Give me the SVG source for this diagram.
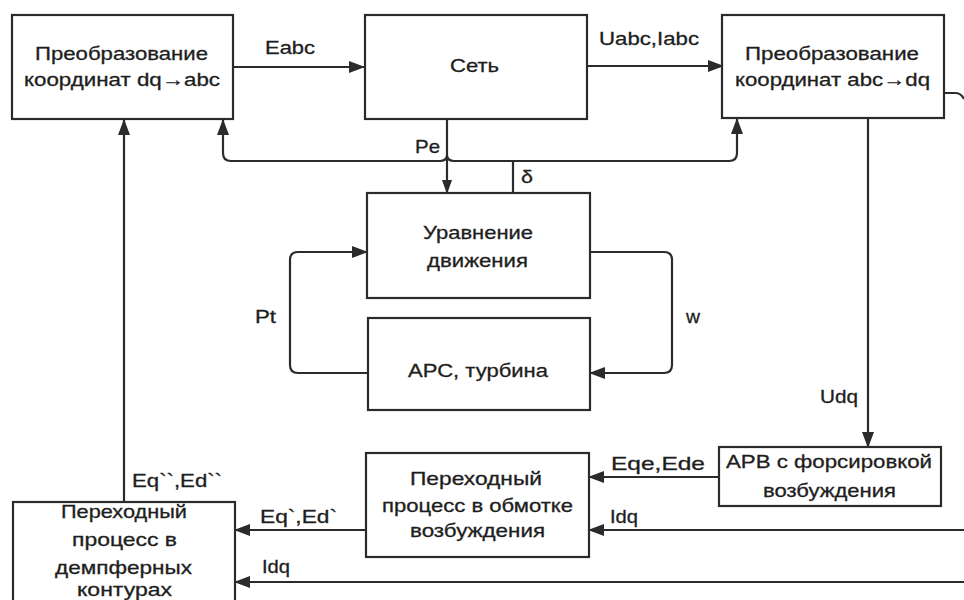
<svg xmlns="http://www.w3.org/2000/svg" width="964" height="600" viewBox="0 0 964 600">
<defs>
<style>
.box{fill:#fff;stroke:#2b2b2b;stroke-width:2.2}
.ln{fill:none;stroke:#2b2b2b;stroke-width:2.2}
.t{font-family:"Liberation Sans",Arial,sans-serif;font-size:18.5px;fill:#1e1e1e;stroke:#1e1e1e;stroke-width:0.3}
</style>
<marker id="ah" markerUnits="userSpaceOnUse" markerWidth="16" markerHeight="12" refX="15" refY="6" orient="auto">
<path d="M0,0 L16,6 L0,12 Z" fill="#2b2b2b"/>
</marker>
<marker id="as" markerUnits="userSpaceOnUse" markerWidth="14" markerHeight="10" refX="13" refY="5" orient="auto">
<path d="M0,0 L14,5 L0,10 Z" fill="#2b2b2b"/>
</marker>
</defs>
<rect width="964" height="600" fill="#fff"/>

<g id="connectors">
<path class="ln" d="M233 67 H364" marker-end="url(#ah)"/>
<path class="ln" d="M587 66 H723" marker-end="url(#ah)"/>
<path class="ln" d="M944 93 H955 Q961 93 964 99"/>
<path class="ln" d="M447 119 V193" marker-end="url(#as)"/>
<path class="ln" d="M513 193 V161 H729 Q737 161 737 153 V119" marker-end="url(#ah)"/>
<path class="ln" d="M513 161 H454 Q448 161 447 156 Q446 161 440 161 H231 Q223 161 223 153 V120" marker-end="url(#ah)"/>
<path class="ln" d="M367 373 H298 Q290 373 290 365 V260 Q290 252 298 252 H367" marker-end="url(#ah)"/>
<path class="ln" d="M590 252 H664 Q672 252 672 260 V365 Q672 373 664 373 H590" marker-end="url(#ah)"/>
<path class="ln" d="M868 118 V447" marker-end="url(#ah)"/>
<path class="ln" d="M719 477 H589" marker-end="url(#ah)"/>
<path class="ln" d="M964 530 H589" marker-end="url(#ah)"/>
<path class="ln" d="M366 530 H235" marker-end="url(#ah)"/>
<path class="ln" d="M964 582 H235" marker-end="url(#ah)"/>
<path class="ln" d="M124 502 V120" marker-end="url(#ah)"/>
</g>

<g id="labels">
<text class="t" x="265" y="54" textLength="50" lengthAdjust="spacingAndGlyphs">Eabc</text>
<text class="t" x="599" y="45" textLength="100" lengthAdjust="spacingAndGlyphs">Uabc,Iabc</text>
<text class="t" x="415" y="153" textLength="25" lengthAdjust="spacingAndGlyphs">Pe</text>
<text class="t" x="521" y="183" textLength="12" lengthAdjust="spacingAndGlyphs">δ</text>
<text class="t" x="255" y="323" textLength="21" lengthAdjust="spacingAndGlyphs">Pt</text>
<text class="t" x="686" y="323" textLength="14" lengthAdjust="spacingAndGlyphs">w</text>
<text class="t" x="820" y="403" textLength="38" lengthAdjust="spacingAndGlyphs">Udq</text>
<text class="t" x="611" y="470" textLength="94" lengthAdjust="spacingAndGlyphs">Eqe,Ede</text>
<text class="t" x="610" y="523" textLength="28" lengthAdjust="spacingAndGlyphs">Idq</text>
<text class="t" x="260" y="523" textLength="77" lengthAdjust="spacingAndGlyphs">Eq`,Ed`</text>
<text class="t" x="262" y="573" textLength="28" lengthAdjust="spacingAndGlyphs">Idq</text>
<text class="t" x="132" y="487" textLength="90" lengthAdjust="spacingAndGlyphs">Eq``,Ed``</text>
</g>

<g id="n1">
<rect class="box" x="12" y="15" width="221" height="104"/>
<text class="t" x="35" y="60" textLength="173" lengthAdjust="spacingAndGlyphs">Преобразование</text>
<text class="t" x="24" y="86" textLength="196" lengthAdjust="spacingAndGlyphs">координат dq→abc</text>
</g>
<g id="n2">
<rect class="box" x="365" y="15" width="222" height="104"/>
<text class="t" x="450" y="72" textLength="49" lengthAdjust="spacingAndGlyphs">Сеть</text>
</g>
<g id="n3">
<rect class="box" x="722" y="15" width="222" height="103"/>
<text class="t" x="745" y="60" textLength="174" lengthAdjust="spacingAndGlyphs">Преобразование</text>
<text class="t" x="735" y="86" textLength="195" lengthAdjust="spacingAndGlyphs">координат abc→dq</text>
</g>
<g id="n4">
<rect class="box" x="367" y="193" width="223" height="105"/>
<text class="t" x="423" y="239" textLength="110" lengthAdjust="spacingAndGlyphs">Уравнение</text>
<text class="t" x="427" y="267" textLength="101" lengthAdjust="spacingAndGlyphs">движения</text>
</g>
<g id="n5">
<rect class="box" x="368" y="318" width="222" height="92"/>
<text class="t" x="408" y="377" textLength="140" lengthAdjust="spacingAndGlyphs">АРС, турбина</text>
</g>
<g id="n6">
<rect class="box" x="719" y="447" width="222" height="59"/>
<text class="t" x="726" y="468" textLength="206" lengthAdjust="spacingAndGlyphs">АРВ с форсировкой</text>
<text class="t" x="763" y="497" textLength="133" lengthAdjust="spacingAndGlyphs">возбуждения</text>
</g>
<g id="n7">
<rect class="box" x="366" y="453" width="223" height="104"/>
<text class="t" x="410" y="485" textLength="132" lengthAdjust="spacingAndGlyphs">Переходный</text>
<text class="t" x="382" y="512" textLength="191" lengthAdjust="spacingAndGlyphs">процесс в обмотке</text>
<text class="t" x="410" y="537" textLength="135" lengthAdjust="spacingAndGlyphs">возбуждения</text>
</g>
<g id="n8">
<rect class="box" x="13" y="502" width="222" height="110"/>
<text class="t" x="61" y="518" textLength="126" lengthAdjust="spacingAndGlyphs">Переходный</text>
<text class="t" x="72" y="546" textLength="105" lengthAdjust="spacingAndGlyphs">процесс в</text>
<text class="t" x="55" y="574" textLength="137" lengthAdjust="spacingAndGlyphs">демпферных</text>
<text class="t" x="77" y="596" textLength="95" lengthAdjust="spacingAndGlyphs">контурах</text>
</g>
</svg>
